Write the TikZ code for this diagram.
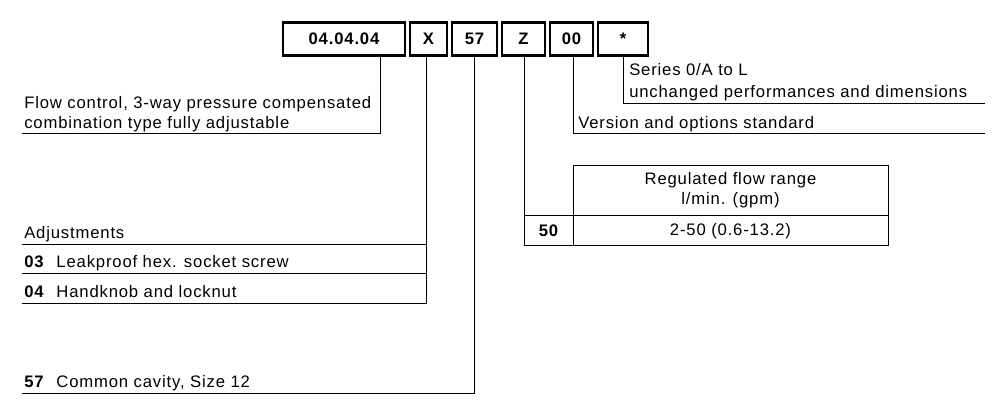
\documentclass[tikz,border=0pt]{standalone}
\usepackage{fontspec}
\setmainfont[LetterSpace=5]{Liberation Sans}
\begin{document}
\begin{tikzpicture}[x=0.75pt,y=-0.75pt,
  codebox/.style={draw,line width=1.8pt,minimum height=25pt,inner sep=0pt,font=\fontsize{12.5}{14}\selectfont\bfseries},
  ln/.style={line width=0.6pt},
  lbl/.style={anchor=base west,inner sep=0pt,font=\fontsize{12.5}{15}\selectfont}]
\useasboundingbox (0,0) rectangle (992,401);
\node[codebox,minimum width=91.5pt] (b1) at (344,39) {04.04.04};
\node[codebox,minimum width=27.75pt] (b2) at (428.5,39) {X};
\node[codebox,minimum width=33.75pt] (b3) at (474.5,39) {57};
\node[codebox,minimum width=32.25pt] (b4) at (523.5,39) {Z};
\node[codebox,minimum width=32.25pt] (b5) at (571.5,39) {00};
\node[codebox,minimum width=37.5pt] (b6) at (623,39) {*};
% coordinates
\coordinate (c1) at (380,133); \coordinate (c1e) at (22,133);
\coordinate (c2) at (426,303);
\coordinate (c3) at (474,393); \coordinate (c3e) at (22,393);
\coordinate (c4) at (524,245);
\coordinate (c5) at (573,133); \coordinate (c5e) at (985,133);
\coordinate (c6) at (623,103); \coordinate (c6e) at (985,103);
\draw[ln] (c1 |- b1.south) -- (c1) -- (c1e);
\draw[ln] (c2 |- b2.south) -- (c2) -- (22,303);
\draw[ln] (22,244) -- (426,244);
\draw[ln] (22,273) -- (426,273);
\draw[ln] (c3 |- b3.south) -- (c3) -- (c3e);
\draw[ln] (c4 |- b4.south) -- (c4);
\draw[ln] (c5 |- b5.south) -- (c5) -- (c5e);
\draw[ln] (c6 |- b6.south) -- (c6) -- (c6e);
% table
\draw[ln] (573,165) rectangle (888,245);
\draw[ln] (524,215) -- (888,215);
\draw[ln] (524,245) -- (573,245);
\draw[ln] (573,215) -- (573,245);
\node[font=\fontsize{12.5}{15}\selectfont,align=center] (th) at (730.5,190) {Regulated flow range\\l/min. (gpm)};
\node[font=\fontsize{12.5}{15}\selectfont\bfseries] (t50) at (548.5,231) {50};
\node[font=\fontsize{12.5}{15}\selectfont] (tv) at (730.5,231) {2-50 (0.6-13.2)};
% labels
\node[lbl] (l1) at (24,108) {Flow control, 3-way pressure compensated};
\node[lbl] (l2) at (24,128) {combination type fully adjustable};
\node[lbl] (l3) at (24,238) {Adjustments};
\node[lbl] (l4) at (24,267) {\textbf{03}\hspace{9pt}Leakproof hex. socket screw};
\node[lbl] (l5) at (24,297) {\textbf{04}\hspace{9pt}Handknob and locknut};
\node[lbl] (l6) at (24,387) {\textbf{57}\hspace{9pt}Common cavity, Size 12};
\node[lbl] (l7) at (578,128) {Version and options standard};
\node[lbl] (l8) at (629,75) {Series 0/A to L};
\node[lbl] (l9) at (629,97) {unchanged performances and dimensions};
\end{tikzpicture}
\end{document}
